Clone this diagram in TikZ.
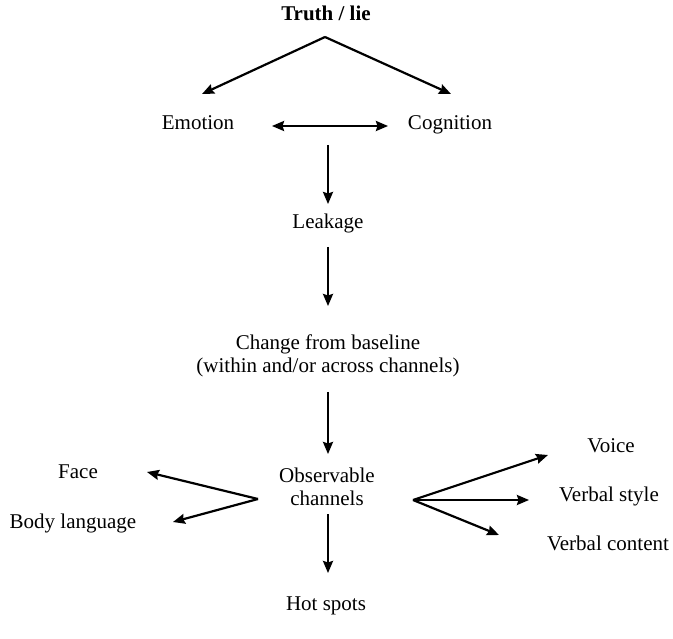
\documentclass[tikz,border=0pt]{standalone}
\usepackage{fontspec}
\setmainfont{Liberation Serif}
\usetikzlibrary{arrows.meta}
\begin{document}
\begin{tikzpicture}[x=1pt,y=-1pt,
  lbl2/.style={inner sep=0pt,align=center,font=\fontsize{21}{23.5}\selectfont},
  lbl/.style={lbl2,text height=14pt,text depth=4.5pt},
  arr/.style={line width=2.2pt,-{Stealth[length=12pt,width=10pt,inset=1.5pt]}},
  darr/.style={line width=2.2pt,{Stealth[length=12pt,width=10pt,inset=1.5pt]}-{Stealth[length=12pt,width=10pt,inset=1.5pt]}}]
\useasboundingbox (0,0) rectangle (673,639);
\node[lbl,font=\fontsize{21}{23.5}\selectfont\bfseries] (truth) at (326,16) {Truth / lie};
\node[lbl] (emotion) at (198,125) {Emotion};
\node[lbl] (cognition) at (450,125) {Cognition};
\node[lbl] (leakage) at (328,224) {Leakage};
\node[lbl2] (change) at (328,356) {Change from baseline\\(within and/or across channels)};
\node[lbl2] (obs) at (327,487) {Observable\\channels};
\node[lbl] (face) at (78,474) {Face};
\node[lbl] (body) at (73,524) {Body language};
\node[lbl] (voice) at (611,448) {Voice};
\node[lbl] (style) at (609,497) {Verbal style};
\node[lbl] (content) at (608,546) {Verbal content};
\node[lbl] (hot) at (326,606) {Hot spots};
% connector points
\coordinate (apex) at (325,37);
\coordinate (eIn) at (202,94);
\coordinate (cIn) at (451,94);
\coordinate (dL) at (272,126);
\coordinate (dR) at (388,126);
\coordinate (m1) at (328,145);
\coordinate (lIn) at (328,204);
\coordinate (lOut) at (328,247);
\coordinate (chIn) at (328,306);
\coordinate (chOut) at (328,392);
\coordinate (oIn) at (328,454);
\coordinate (oL) at (258,499);
\coordinate (fIn) at (147,472);
\coordinate (bIn) at (173,522);
\coordinate (oR) at (413,500);
\coordinate (vIn) at (548,455);
\coordinate (sIn) at (529,500);
\coordinate (cnIn) at (499,535);
\coordinate (oOut) at (328,514);
\coordinate (hIn) at (328,573);
\draw[arr] (apex) -- (eIn);
\draw[arr] (apex) -- (cIn);
\draw[darr] (dL) -- (dR);
\draw[arr] (m1) -- (lIn);
\draw[arr] (lOut) -- (chIn);
\draw[arr] (chOut) -- (oIn);
\draw[arr] (oL) -- (fIn);
\draw[arr] (oL) -- (bIn);
\draw[arr] (oR) -- (vIn);
\draw[arr] (oR) -- (sIn);
\draw[arr] (oR) -- (cnIn);
\draw[arr] (oOut) -- (hIn);
\end{tikzpicture}
\end{document}
